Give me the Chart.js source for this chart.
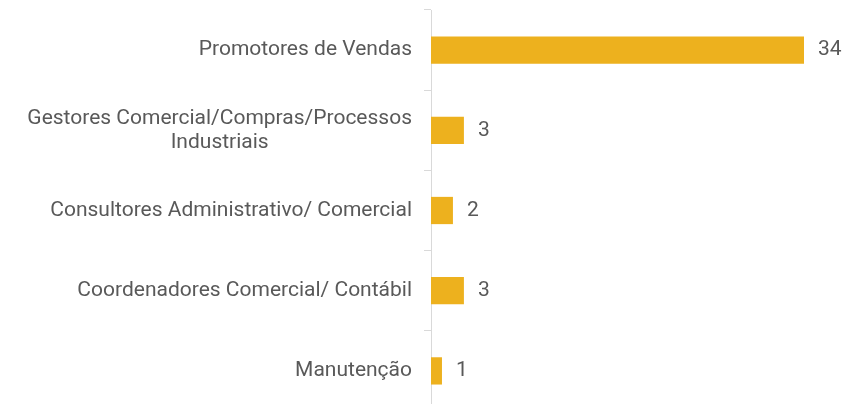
<!DOCTYPE html>
<html>
<head>
<meta charset="utf-8">
<script src="https://cdn.jsdelivr.net/npm/chart.js@4/dist/chart.umd.min.js"></script>
<style>
  html, body { margin: 0; padding: 0; background: #ffffff; overflow: hidden; }
  #wrap { position: relative; width: 868px; height: 404px; overflow: hidden; }
  canvas { display: block; }
</style>
</head>
<body>
<div id="wrap"><canvas id="c" width="868" height="420"></canvas></div>
<script>
const categories = [
  ["Promotores de Vendas"],
  ["Gestores Comercial/Compras/Processos", "Industriais"],
  ["Consultores Administrativo/ Comercial"],
  ["Coordenadores Comercial/ Contábil"],
  ["Manutenção"]
];
const values = [34, 3, 2, 3, 1];

const barColor = '#EDB11E';
const textColor = '#595959';
const fontFamily = 'Roboto, "Noto Sans", sans-serif';
const fontSize = 21;

const labelPlugin = {
  id: 'customLabels',
  afterDatasetsDraw(chart) {
    const ctx = chart.ctx;
    const yScale = chart.scales.y;
    const meta = chart.getDatasetMeta(0);
    ctx.save();
    ctx.font = fontSize + 'px ' + fontFamily;
    ctx.fillStyle = textColor;
    ctx.textBaseline = 'middle';
    meta.data.forEach((bar, i) => {
      ctx.textAlign = 'left';
      ctx.fillText(String(values[i]), bar.x + 14, bar.y);
    });
    const rightX = yScale.right - 19;
    const lineH = 24;
    categories.forEach((lines, i) => {
      const cy = yScale.getPixelForValue(i);
      const w = Math.max(...lines.map(l => ctx.measureText(l).width));
      const cx = rightX - w / 2;
      const startY = cy - (lines.length - 1) * lineH / 2;
      ctx.textAlign = 'center';
      lines.forEach((l, j) => ctx.fillText(l, cx, startY + j * lineH));
    });
    ctx.restore();
  }
};

new Chart(document.getElementById('c'), {
  type: 'bar',
  data: {
    labels: categories,
    datasets: [{
      data: values,
      backgroundColor: barColor,
      borderWidth: 0,
      categoryPercentage: 1,
      barPercentage: 0.34
    }]
  },
  plugins: [labelPlugin],
  options: {
    indexAxis: 'y',
    responsive: false,
    animation: false,
    layout: { padding: { top: 10, right: 64, bottom: 0, left: 0 } },
    plugins: { legend: { display: false }, tooltip: { enabled: false } },
    scales: {
      x: {
        display: false,
        min: 0,
        max: 34
      },
      y: {
        afterFit(scale) { scale.width = 431; },
        grid: {
          display: true,
          drawOnChartArea: false,
          drawTicks: true,
          offset: true,
          tickLength: 7,
          color: '#d9d9d9',
          lineWidth: 1
        },
        border: { display: true, color: '#d9d9d9', width: 1 },
        ticks: {
          color: 'rgba(0,0,0,0)',
          font: { family: fontFamily, size: 10 }
        }
      }
    }
  }
});
</script>
</body>
</html>
